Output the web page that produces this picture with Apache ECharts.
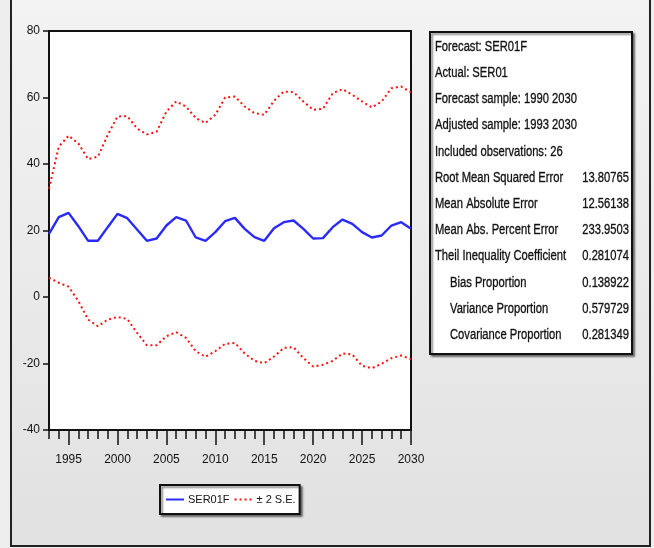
<!DOCTYPE html>
<html>
<head>
<meta charset="utf-8">
<script src="https://cdn.jsdelivr.net/npm/echarts@6/dist/echarts.min.js"></script>
<style>html,body{margin:0;padding:0;background:#eee;}#c{width:654px;height:548px;}</style>
</head>
<body>
<div id="c"></div>
<script>
const years = [];
for (let y = 1993; y <= 2030; y++) years.push(String(y));

const forecast = [19.0, 24.0, 25.3, 21.3, 16.9, 16.9, 21.0, 25.0, 23.7, 20.3, 16.9, 17.6, 21.5, 24.0, 23.0, 17.9, 16.9, 19.5, 22.8, 23.8, 20.5, 18.0, 16.9, 20.7, 22.5, 23.0, 20.5, 17.6, 17.7, 21.0, 23.3, 22.0, 19.5, 17.9, 18.5, 21.5, 22.5, 20.5];
const upperSE = [32.6, 45.2, 48.5, 46.2, 41.5, 42.2, 48.7, 54.3, 54.4, 50.7, 48.9, 49.7, 55.8, 58.8, 57.3, 53.8, 52.3, 54.8, 60.0, 60.3, 57.3, 55.3, 54.8, 59.0, 61.8, 61.6, 58.8, 56.3, 56.6, 61.3, 62.5, 60.8, 58.8, 57.0, 58.8, 62.8, 63.3, 61.6];
const lowerSE = [5.8, 4.3, 3.1, -1.2, -6.8, -8.8, -6.8, -6.0, -6.6, -10.8, -14.5, -14.5, -11.8, -10.6, -12.3, -16.3, -18.0, -16.3, -14.1, -13.8, -17.0, -19.2, -19.9, -17.9, -15.3, -15.1, -18.4, -20.9, -20.4, -19.2, -17.0, -17.3, -20.7, -21.4, -20.1, -18.4, -17.6, -18.7];

const statLabels = ['Forecast: SER01F', 'Actual: SER01', 'Forecast sample: 1990 2030', 'Adjusted sample: 1993 2030', 'Included observations: 26', 'Root Mean Squared Error', 'Mean Absolute Error', 'Mean Abs. Percent Error', 'Theil Inequality Coefficient', '     Bias Proportion', '     Variance Proportion', '     Covariance Proportion'];
const statValues = ['', '', '', '', '', '13.80765', '12.56138', '233.9503', '0.281074', '0.138922', '0.579729', '0.281349'];

const FONT = '"Liberation Sans", Arial, sans-serif';

const chart = echarts.init(document.getElementById('c'));

const graphics = [
  {
    type: 'rect', z: -10, silent: true,
    shape: { x: 11, y: -5, width: 639, height: 551 },
    style: {
      fill: { type: 'linear', x: 0, y: 0, x2: 0, y2: 1, colorStops: [{ offset: 0, color: '#f3f3f3' }, { offset: 1, color: '#e1e1e1' }] },
      stroke: '#222', lineWidth: 2
    }
  },
  {
    type: 'rect', z: 5,
    shape: { x: 430, y: 32, width: 202, height: 322 },
    style: { fill: '#fff', stroke: '#111', lineWidth: 2, shadowColor: 'rgba(0,0,0,0.45)', shadowOffsetX: 2, shadowOffsetY: 2, shadowBlur: 2 }
  }
];
statLabels.forEach((t, i) => {
  const yy = 47 + i * 26.2;
  const indent = t.startsWith(' ');
  graphics.push({
    type: 'text', z: 6,
    x: indent ? 450 : 435, y: yy, scaleX: 0.8,
    style: { text: t.trim(), font: '14px ' + FONT, fill: '#111', stroke: '#333', lineWidth: 0.35, textAlign: 'left', textVerticalAlign: 'middle' }
  });
  if (statValues[i]) {
    graphics.push({
      type: 'text', z: 6,
      x: 629, y: yy, scaleX: 0.8,
      style: { text: statValues[i], font: '14px ' + FONT, fill: '#111', stroke: '#333', lineWidth: 0.35, textAlign: 'right', textVerticalAlign: 'middle' }
    });
  }
});

const option = {
  backgroundColor: 'transparent',
  animation: false,
  grid: { left: 49, right: 243, top: 31, bottom: 118, show: true, backgroundColor: '#fff', borderColor: '#111', borderWidth: 2, containLabel: false },
  legend: {
    left: 160, top: 485,
    itemWidth: 18, itemHeight: 10, itemGap: 4,
    padding: [9, 4, 9, 5],
    backgroundColor: '#fff', borderColor: '#111', borderWidth: 2,
    shadowColor: 'rgba(0,0,0,0.45)', shadowOffsetX: 2, shadowOffsetY: 2, shadowBlur: 2,
    itemStyle: { opacity: 0 },
    textStyle: { fontFamily: FONT, fontSize: 11, color: '#111', padding: [0, 0, 0, -1] },
    data: ['SER01F', '± 2 S.E.']
  },
  xAxis: [
    {
      type: 'category', data: years, boundaryGap: false,
      axisLine: { show: true, onZero: false, lineStyle: { color: '#111', width: 2 } },
      axisTick: { show: true, interval: 0, length: 9, lineStyle: { color: '#111', width: 1.5 } },
      axisLabel: {
        interval: (i, v) => Number(v) % 5 === 0,
        margin: 24, fontFamily: FONT, fontSize: 12, color: '#111'
      },
      splitLine: { show: false }
    },
    {
      type: 'category', data: years, boundaryGap: false, position: 'bottom',
      axisLine: { show: false, onZero: false },
      axisTick: { show: true, interval: (i, v) => Number(v) % 5 === 0, length: 15, lineStyle: { color: '#111', width: 1.5 } },
      axisLabel: { show: false },
      splitLine: { show: false }
    }
  ],
  yAxis: {
    type: 'value', min: -40, max: 80, interval: 20,
    axisLine: { show: true, lineStyle: { color: '#111', width: 2 } },
    axisTick: { show: true, length: 6, lineStyle: { color: '#111', width: 1.5 } },
    axisLabel: { margin: 9, fontFamily: FONT, fontSize: 12, color: '#111' },
    splitLine: { show: false }
  },
  graphic: graphics,
  series: [
    {
      name: 'SER01F', type: 'line', data: forecast, xAxisIndex: 0,
      showSymbol: false, symbol: 'none',
      lineStyle: { color: '#2a2aff', width: 2.4 }, itemStyle: { color: '#2a2aff' }
    },
    {
      name: '± 2 S.E.', type: 'line', data: upperSE, xAxisIndex: 0,
      showSymbol: false, symbol: 'none',
      lineStyle: { color: '#ff1010', width: 2, type: [2, 3] }, itemStyle: { color: '#ff1010' }
    },
    {
      name: '± 2 S.E.', type: 'line', data: lowerSE, xAxisIndex: 0,
      showSymbol: false, symbol: 'none',
      lineStyle: { color: '#ff1010', width: 2, type: [2, 3] }, itemStyle: { color: '#ff1010' }
    }
  ]
};
chart.setOption(option);
</script>
</body>
</html>
